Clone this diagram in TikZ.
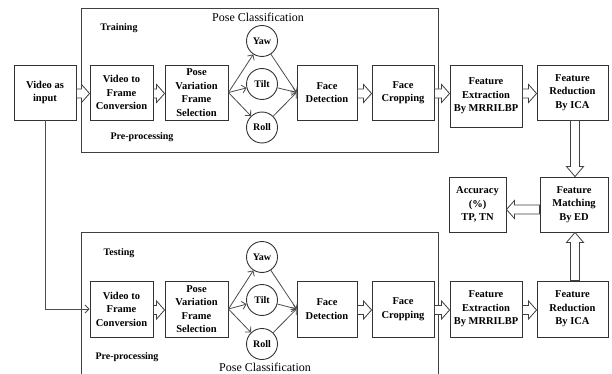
\documentclass[tikz,border=0pt]{standalone}
\usepackage{fontspec}
\setmainfont{Liberation Serif}
\usetikzlibrary{arrows.meta,calc}
\tikzset{
  ln/.style={draw=black!80, line width=0.9pt},
  box/.style={ln, rectangle, align=center, inner sep=1pt,
    font=\bfseries\fontsize{10.5}{13.5}\selectfont},
  circ/.style={ln, circle, minimum size=31pt, inner sep=0pt,
    font=\bfseries\fontsize{10}{12}\selectfont},
  lbl/.style={font=\bfseries\fontsize{10}{12}\selectfont, inner sep=0pt},
  title/.style={font=\fontsize{12}{14}\selectfont, inner sep=0pt},
  hollow/.style={draw=black!75, line width=0.8pt, fill=white, line join=miter},
  thinarr/.style={draw=black!70, line width=0.8pt, -{Straight Barb[length=4pt,width=8pt]}},
  frame/.style={draw=black!75, line width=0.9pt}
}
% horizontal hollow block arrow: start point, end point (same y)
\newcommand{\hollowH}[2]{%
  \path[hollow] let \p1=(#1), \p2=(#2), \n1={ifthenelse(\x2>\x1,1,-1)} in
    (\x1,\y1+4.5pt) -- (\x2-\n1*8pt,\y1+4.5pt) -- (\x2-\n1*8pt,\y1+9pt) --
    (\x2,\y1) -- (\x2-\n1*8pt,\y1-9pt) -- (\x2-\n1*8pt,\y1-4.5pt) --
    (\x1,\y1-4.5pt) -- cycle;}
% vertical hollow block arrow
\newcommand{\hollowV}[2]{%
  \path[hollow] let \p1=(#1), \p2=(#2), \n1={ifthenelse(\y2>\y1,1,-1)} in
    (\x1+4.5pt,\y1) -- (\x1+4.5pt,\y2-\n1*10pt) -- (\x1+8.5pt,\y2-\n1*10pt) --
    (\x1,\y2) -- (\x1-8.5pt,\y2-\n1*10pt) -- (\x1-4.5pt,\y2-\n1*10pt) --
    (\x1-4.5pt,\y1) -- cycle;}
\begin{document}
\begin{tikzpicture}[x=1pt,y=-1pt]
\useasboundingbox (0,0) rectangle (612,374);
\clip (0,0) rectangle (612,374);
\fill[white] (0,0) rectangle (612,374);

% enclosing frames
\draw[frame] (81,8) rectangle (438,152.5);
\draw[frame] (81,232) rectangle (438,400);

% ---------- training row ----------
\node[title] (tpc) at (258,17) {Pose Classification};
\node[lbl] (ttr) at (119,28) {Training};
\node[lbl] (tpp) at (142,137.5) {Pre-processing};

\node[box, minimum width=62pt, minimum height=55pt] (vin) at (45,92.5) {Video as\\input};
\node[box, minimum width=63pt, minimum height=55pt] (tvf) at (121.5,92.5) {Video to\\Frame\\Conversion};
\node[box, minimum width=63pt, minimum height=55pt] (tpv) at (196.5,92.5) {Pose\\Variation\\Frame\\Selection};
\node[circ] (tyaw) at (262,41) {Yaw};
\node[circ] (ttilt) at (262,84) {Tilt};
\node[circ] (troll) at (262,127.5) {Roll};
\node[box, minimum width=60pt, minimum height=55pt] (tfd) at (327,92.5) {Face\\Detection};
\node[box, minimum width=62pt, minimum height=55pt] (tfc) at (403,92.5) {Face\\Cropping};
\node[box, minimum width=72pt, minimum height=62pt] (tfe) at (486,96) {Feature\\Extraction\\By MRRILBP};
\node[box, minimum width=71pt, minimum height=55pt] (tfr) at (572.5,92.5) {Feature\\Reduction\\By ICA};

% ---------- matching ----------
\node[box, minimum width=68pt, minimum height=55pt] (fm) at (574,204.5) {Feature\\Matching\\By ED};
\node[box, minimum width=57pt, minimum height=55pt] (acc) at (477.5,204.5) {Accuracy\\(\%)\\TP, TN};

% ---------- testing row ----------
\node[lbl] (bte) at (119,253) {Testing};
\node[lbl] (bpp) at (127,357) {Pre-processing};
\node[title] (bpc) at (265,367) {Pose Classification};

\node[box, minimum width=63pt, minimum height=56pt] (bvf) at (121.5,309) {Video to\\Frame\\Conversion};
\node[box, minimum width=63pt, minimum height=56pt] (bpv) at (196.5,309) {Pose\\Variation\\Frame\\Selection};
\node[circ] (byaw) at (262,257) {Yaw};
\node[circ] (btilt) at (262,300) {Tilt};
\node[circ] (broll) at (262,344) {Roll};
\node[box, minimum width=60pt, minimum height=56pt] (bfd) at (327,309) {Face\\Detection};
\node[box, minimum width=62pt, minimum height=56pt] (bfc) at (403,309) {Face\\Cropping};
\node[box, minimum width=72pt, minimum height=56pt] (bfe) at (486,309) {Feature\\Extraction\\By MRRILBP};
\node[box, minimum width=71pt, minimum height=56pt] (bfr) at (572.5,309) {Feature\\Reduction\\By ICA};

% ---------- thin arrows ----------
\foreach \c in {tyaw,ttilt,troll}{
  \draw[thinarr] (tpv.east) -- (\c);
  \draw[thinarr] (\c) -- (tfd.west);
}
\foreach \c in {byaw,btilt,broll}{
  \draw[thinarr] (bpv.east) -- (\c);
  \draw[thinarr] (\c) -- (bfd.west);
}
\draw[thinarr] (vin.south) |- (bvf.west);

% ---------- hollow arrows ----------
\hollowH{$(vin.east)+(0,1)$}{$(tvf.west)+(0,1)$}
\hollowH{$(tvf.east)+(0,1)$}{$(tpv.west)+(0,1)$}
\hollowH{$(tfd.east)+(0,1)$}{$(tfc.west)+(0,1)$}
\hollowH{$(tfc.east)+(0,1)$}{$(tfe.west |- tfc.east)+(0,1)$}
\hollowH{$(tfe.east |- tfr.west)+(0,1)$}{$(tfr.west)+(0,1)$}
\hollowV{$(tfr.south)+(2.5,0)$}{$(tfr.south |- fm.north)+(2.5,0)$}
\hollowH{$(fm.west)+(0,5)$}{$(acc.east)+(0,5)$}
\hollowV{$(bfr.north)+(2.5,0)$}{$(bfr.north |- fm.south)+(2.5,0)$}

\hollowH{$(bvf.east)+(0,1)$}{$(bpv.west)+(0,1)$}
\hollowH{$(bfd.east)+(0,1)$}{$(bfc.west)+(0,1)$}
\hollowH{$(bfc.east)+(0,1)$}{$(bfe.west)+(0,1)$}
\hollowH{$(bfe.east)+(0,1)$}{$(bfr.west)+(0,1)$}
\end{tikzpicture}
\end{document}
